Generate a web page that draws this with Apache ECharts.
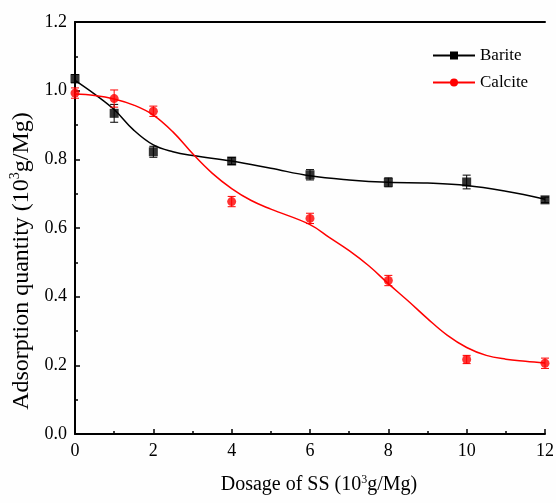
<!DOCTYPE html>
<html><head><meta charset="utf-8">
<script src="https://cdn.jsdelivr.net/npm/echarts@6/dist/echarts.min.js"></script>
<style>html,body{margin:0;padding:0;background:#fff}#c{width:556px;height:503px}</style>
</head><body><div id="c"></div>
<script>
// measured points
const dosage = [0, 1, 2, 4, 6, 8, 10, 12];
const bariteVals = [1.035, 0.934, 0.822, 0.795, 0.755, 0.733, 0.734, 0.682];
const bariteErr  = [0.012, 0.026, 0.016, 0.010, 0.015, 0.013, 0.020, 0.008];
const calciteVals = [0.993, 0.977, 0.940, 0.677, 0.628, 0.447, 0.217, 0.206];
const calciteErr  = [0.015, 0.025, 0.015, 0.015, 0.015, 0.015, 0.012, 0.015];
// fitted curves
const bariteFitX = [0, 0.5, 1, 1.5, 2, 2.5, 3, 4, 5, 6, 7, 8, 9, 10, 11, 12];
const bariteFitY = [1.03, 0.99, 0.945, 0.885, 0.842, 0.822, 0.811, 0.795, 0.774, 0.752, 0.740, 0.733, 0.731, 0.724, 0.707, 0.684];
const calciteFitX = [0, 0.5, 1, 1.5, 2, 2.5, 3, 3.5, 4, 4.5, 5, 6, 6.5, 7, 7.5, 8, 8.5, 9, 9.5, 10, 10.5, 11, 11.5, 12];
const calciteFitY = [0.99, 0.986, 0.976, 0.958, 0.929, 0.880, 0.817, 0.760, 0.715, 0.680, 0.655, 0.610, 0.572, 0.534, 0.490, 0.438, 0.388, 0.336, 0.288, 0.252, 0.229, 0.218, 0.212, 0.207];
const yTicks = [0, 0.2, 0.4, 0.6, 0.8, 1.0, 1.2];
const xTicks = [0, 2, 4, 6, 8, 10, 12];

const font = '"Liberation Serif", "Times New Roman", serif';
const zip = (a, b) => a.map((v, i) => [v, b[i]]);

function errSeries(name, vals, errs, color) {
  return {
    type: 'custom', name: name, z: 3,
    data: dosage.map((x, i) => [x, vals[i] - errs[i], vals[i] + errs[i]]),
    renderItem: function (params, api) {
      const lo = api.coord([api.value(0), api.value(1)]);
      const hi = api.coord([api.value(0), api.value(2)]);
      const w = 4;
      const st = { stroke: color, lineWidth: 1 };
      return { type: 'group', children: [
        { type: 'line', shape: { x1: lo[0], y1: lo[1], x2: hi[0], y2: hi[1] }, style: st },
        { type: 'line', shape: { x1: lo[0] - w, y1: lo[1], x2: lo[0] + w, y2: lo[1] }, style: st },
        { type: 'line', shape: { x1: hi[0] - w, y1: hi[1], x2: hi[0] + w, y2: hi[1] }, style: st }
      ]};
    }
  };
}

const chart = echarts.init(document.getElementById('c'));
chart.setOption({
  backgroundColor: '#fefefe',
  animation: false,
  grid: { left: 75, right: 11, top: 22, bottom: 69, containLabel: false, outerBoundsMode: 'none' },
  legend: {
    data: ['Barite', 'Calcite'], orient: 'vertical', left: 427, top: 42,
    itemWidth: 42, itemHeight: 10, itemGap: 10,
    textStyle: { fontFamily: font, fontSize: 17, color: '#000' }
  },
  xAxis: [{
    type: 'value', min: 0, max: 12, interval: 2,
    name: 'Dosage of SS (10{s|3}g/Mg)', nameLocation: 'middle', nameGap: 40,
    nameTextStyle: { fontFamily: font, fontSize: 20, color: '#000', padding: [0, 0, 0, 18],
      rich: { s: { fontFamily: font, fontSize: 12, verticalAlign: 'top', padding: [0, 0, 10, 0] } } },
    axisLine: { lineStyle: { color: '#000', width: 2 } },
    axisTick: { inside: true, length: 5, lineStyle: { color: '#000', width: 1.5 } },
    minorTick: { show: true, splitNumber: 2, length: 3, lineStyle: { color: '#000', width: 1.5 } },
    axisLabel: { fontFamily: font, fontSize: 18, color: '#000', margin: 8 },
    splitLine: { show: false }
  }, {
    type: 'value', min: 0, max: 12, position: 'top',
    axisLine: { show: true, onZero: false, lineStyle: { color: '#000', width: 2 } },
    axisTick: { show: false }, axisLabel: { show: false }, splitLine: { show: false }
  }],
  yAxis: {
    type: 'value', min: 0, max: 1.2, interval: 0.2,
    name: 'Adsorption quantity (10{s|3}g/Mg)', nameLocation: 'middle', nameGap: 39,
    nameTextStyle: { fontFamily: font, fontSize: 24, color: '#000', padding: [0, 66, 0, 0],
      rich: { s: { fontFamily: font, fontSize: 14, padding: [0, 0, 12, 0] } } },
    axisLine: { show: true, lineStyle: { color: '#000', width: 2 } },
    axisTick: { inside: true, length: 5, lineStyle: { color: '#000', width: 1.5 } },
    minorTick: { show: true, splitNumber: 2, length: 3, lineStyle: { color: '#000', width: 1.5 } },
    axisLabel: { fontFamily: font, fontSize: 18, color: '#000', margin: 8,
      formatter: v => v.toFixed(1) },
    splitLine: { show: false }
  },
  series: [
    { name: 'Barite', type: 'line', smooth: 0.4, data: zip(bariteFitX, bariteFitY),
      symbol: 'rect', symbolSize: 9, showSymbol: false, z: 2,
      lineStyle: { color: '#000', width: 1.5 }, itemStyle: { color: '#000' } },
    { name: 'Calcite', type: 'line', smooth: 0.4, data: zip(calciteFitX, calciteFitY),
      symbol: 'circle', symbolSize: 9, showSymbol: false, z: 2,
      lineStyle: { color: '#ff0000', width: 1.5 }, itemStyle: { color: '#ff0000' } },
    errSeries('BariteErr', bariteVals, bariteErr, '#000'),
    errSeries('CalciteErr', calciteVals, calciteErr, '#ff0000'),
    { name: 'BariteData', type: 'scatter', symbol: 'rect', symbolSize: 9, z: 4,
      data: zip(dosage, bariteVals), itemStyle: { color: '#000' } },
    { name: 'CalciteData', type: 'scatter', symbol: 'circle', symbolSize: 9, z: 4,
      data: zip(dosage, calciteVals), itemStyle: { color: '#ff0000' } }
  ]
});
</script></body></html>
